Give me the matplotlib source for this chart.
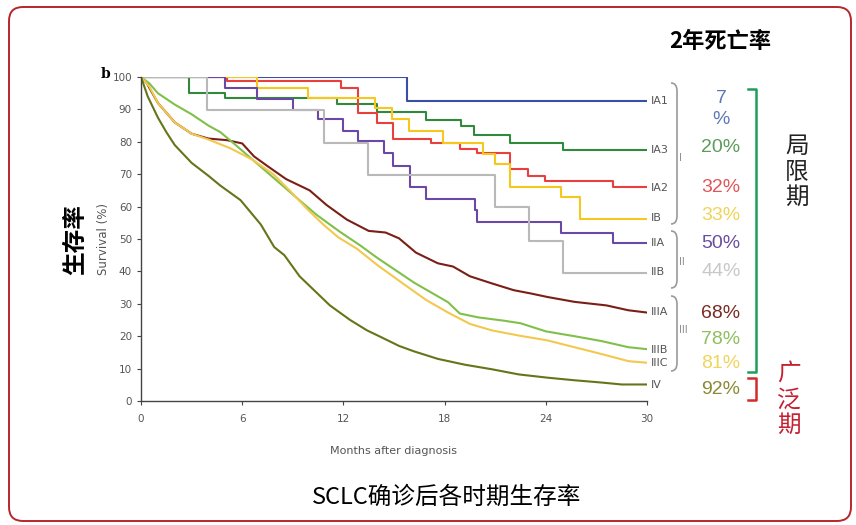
import matplotlib
matplotlib.use("Agg")
import matplotlib.pyplot as plt
from matplotlib.patches import FancyBboxPatch, PathPatch
from matplotlib.path import Path
from matplotlib.lines import Line2D

W, H = 856, 525

# --- Kaplan-Meier curves, sparse stages (time of each step, survival after it)
ia1_t = [0, 15.75, 30]
ia1_s = [100, 92.7, 92.7]
ia3_t = [0, 2.86, 4.98, 11.6, 13.97, 16.9, 19.0, 19.76, 21.9, 25.0, 30]
ia3_s = [100, 95.0, 93.4, 91.6, 89.3, 86.6, 84.8, 82.0, 79.6, 77.5, 77.5]
ia2_t = [0, 5.1, 11.84, 12.84, 13.97, 14.92, 17.2, 18.9, 19.9, 21.9, 22.96, 23.95, 28.0, 30]
ia2_s = [100, 98.8, 96.7, 88.8, 85.8, 81.0, 79.6, 77.7, 76.4, 71.6, 69.4, 68.0, 66.2, 66.2]
ib_t = [0, 6.86, 9.92, 13.9, 14.86, 15.9, 17.88, 20.3, 21.0, 21.9, 24.9, 26.0, 30]
ib_s = [100, 96.7, 93.5, 90.4, 87.0, 83.3, 79.7, 76.3, 73.2, 66.2, 63.0, 56.2, 56.2]
iia_t = [0, 4.98, 6.86, 8.99, 10.5, 11.95, 12.88, 14.4, 14.96, 15.95, 16.9, 19.8, 19.95, 24.9, 28.0, 30]
iia_s = [100, 96.6, 93.3, 89.9, 86.9, 83.2, 80.1, 76.5, 72.6, 66.2, 62.5, 59.0, 55.2, 52.0, 48.8, 48.8]
iib_t = [0, 3.93, 10.85, 13.48, 21.0, 23.0, 25.0, 30]
iib_s = [100, 89.8, 79.6, 69.9, 60.0, 49.4, 39.6, 39.6]

# --- dense stages (months, survival %)
iiia_m = [0, 0.35, 1, 2, 3, 4, 5.1, 6, 6.7, 7.5, 8.6, 10, 11, 12.2, 13.5, 14.5, 15.3,
          16.3, 17.6, 18.5, 19.5, 20.8, 22.1, 23.1, 24.1, 25.7, 27.6, 28.9, 30]
iiia_s = [100, 98, 92, 86, 82.5, 81, 80.5, 79.5, 75.5, 72.5, 68.5, 65, 60.5, 56, 52.5, 52,
          50.2, 45.8, 42.5, 41.5, 38.5, 36.3, 34.2, 33.2, 32.1, 30.6, 29.5, 28, 27.3]
iiib_m = [0, 0.5, 1, 2, 3, 4, 4.7, 5.5, 6.5, 7.5, 8.5, 9.5, 10.4, 11.8, 13, 14, 15.2,
          16.2, 17.3, 18.2, 18.9, 20, 21.5, 22.5, 24, 25.7, 27.3, 28.9, 30]
iiib_s = [100, 98, 95, 91.5, 88.5, 85, 83, 79.5, 75, 70.5, 66, 61.5, 57.5, 52.2, 48, 44.2,
          40, 36.5, 33.2, 30.5, 27, 25.8, 24.8, 24, 21.5, 20, 18.5, 16.6, 16]
iiic_m = [0, 0.5, 1, 2, 3, 4, 5.3, 6.6, 7.85, 8.9, 9.9, 10.8, 11.7, 12.8, 14, 15.6, 16.9,
          18.2, 19.5, 20.8, 22.4, 24.1, 25.7, 27.3, 28.9, 30]
iiic_s = [100, 97, 92, 86, 82.5, 80.7, 78, 74.5, 70, 64.5, 59, 54.5, 50.5, 47, 42, 36,
          31.2, 27.3, 23.8, 21.8, 20.2, 18.7, 16.6, 14.5, 12.3, 11.8]
iv_m = [0, 0.4, 1, 1.5, 2, 3, 4, 4.7, 5.9, 7.1, 7.9, 8.5, 9.4, 10.2, 11.2, 12.4, 13.4,
        14.2, 15.3, 16.2, 17.6, 19.2, 20.8, 22.4, 24.1, 25.7, 27.3, 28.5, 30]
iv_s = [100, 94, 87.5, 83, 79, 73.5, 69.5, 66.5, 62, 54.5, 47.5, 45, 38.5, 34.5, 29.5, 25,
        21.8, 19.8, 17, 15.3, 13, 11.2, 9.8, 8.2, 7.2, 6.4, 5.7, 5.1, 5.1]

stages = ["IA1", "IA3", "IA2", "IB", "IIA", "IIB", "IIIA", "IIIB", "IIIC", "IV"]
mortality = ["7\n%", "20%", "32%", "33%", "50%", "44%", "68%", "78%", "81%", "92%"]
colors = ["#3b4ea6", "#2f8a3c", "#e8403c", "#f6c81e", "#6b48a6", "#b9b9b9",
          "#7a1f16", "#80c04a", "#f2c84e", "#66741a"]
pct_colors = ["#5b78b8", "#5a9c5a", "#e05658", "#f0d458", "#6a4f9e", "#c8c8c8",
              "#7a2a22", "#8cc05e", "#f0d45c", "#8a8a34"]

narrow = ["Liberation Sans Narrow", "DejaVu Sans"]
cjk = ["Noto Sans CJK SC", "DejaVu Sans"]
grey = "#555555"


def fx(x):
    return x / W


def fy(y):
    return 1 - y / H


fig = plt.figure(figsize=(W / 100, H / 100), dpi=100)
ax = fig.add_axes([fx(141), fy(401), (647 - 141) / W, (401 - 77) / H])

step_data = [(ia1_t, ia1_s), (ia3_t, ia3_s), (ia2_t, ia2_s), (ib_t, ib_s),
             (iia_t, iia_s), (iib_t, iib_s)]
for (t, s), c in zip(step_data, colors[:6]):
    ax.step(t, s, where="post", color=c, lw=1.5)
dense_data = [(iiia_m, iiia_s), (iiib_m, iiib_s), (iiic_m, iiic_s), (iv_m, iv_s)]
for (m, s), c in zip(dense_data, colors[6:]):
    ax.plot(m, s, color=c, lw=1.5)

ax.set_xlim(0, 30)
ax.set_ylim(0, 100)
ax.set_xticks(range(0, 31, 6))
ax.set_yticks(range(0, 101, 10))
for sp in ["top", "right"]:
    ax.spines[sp].set_visible(False)
for sp in ["left", "bottom"]:
    ax.spines[sp].set_color("#444444")
    ax.spines[sp].set_linewidth(1.0)
ax.tick_params(colors="#444444", labelcolor=grey, length=3, width=0.8, labelsize=7.5)
ax.tick_params(axis="x", pad=6)
for lab in ax.get_xticklabels() + ax.get_yticklabels():
    lab.set_family(narrow)
ax.set_xlabel("Months after diagnosis", fontsize=8, color=grey, family=narrow, labelpad=16)
ax.set_ylabel("Survival (%)", fontsize=8.5, color=grey, family=narrow, labelpad=2)
ax.set_clip_on(False)

fig.text(fx(106), fy(74), "b", fontsize=10, fontweight="bold", family="DejaVu Serif",
         ha="center", va="center")

# stage labels at line ends
label_y = [101, 150, 188, 218, 243, 272, 312, 350, 363, 385]
for name, y in zip(stages, label_y):
    fig.text(fx(651), fy(y), name, fontsize=8, color=grey, family=narrow, va="center")


def brace(x_out, x_in, y_top, y_bot, r=8):
    pts = [(x_out, y_top), (x_in, y_top), (x_in, y_top + r), (x_in, y_bot - r),
           (x_in, y_bot), (x_out, y_bot)]
    codes = [Path.MOVETO, Path.CURVE3, Path.CURVE3, Path.LINETO, Path.CURVE3, Path.CURVE3]
    path = Path([(fx(x), fy(y)) for x, y in pts], codes)
    fig.add_artist(PathPatch(path, transform=fig.transFigure, fill=False,
                             edgecolor="#9a9a9a", lw=1.2))


brace(671, 677, 83, 224)
brace(671, 677, 231, 288)
brace(671, 677, 296, 371)
for txt, y in [("I", 158), ("II", 262), ("III", 330)]:
    fig.text(fx(679), fy(y), txt, fontsize=7, color="#888888", family=narrow, va="center")

# two-year mortality column
fig.text(fx(720), fy(42), "2年死亡率", fontsize=16, fontweight="bold", family=cjk,
         ha="center", va="center")
pct_y = [109, 148, 188, 215, 243, 271, 313, 339, 364, 389]
for txt, y, c in zip(mortality, pct_y, pct_colors):
    fig.text(fx(721), fy(y), txt, fontsize=14, color=c, family=["Liberation Sans", "DejaVu Sans"],
             ha="center", va="center", linespacing=1.25)

# brackets
fig.add_artist(Line2D([fx(748), fx(756), fx(756), fx(748)], [fy(89), fy(89), fy(372), fy(372)],
                      transform=fig.transFigure, color="#1f9e5a", lw=1.8))
fig.add_artist(Line2D([fx(748), fx(756), fx(756), fx(748)], [fy(378), fy(378), fy(400), fy(400)],
                      transform=fig.transFigure, color="#d42a2a", lw=1.8))
fig.text(fx(797), fy(172), "局\n限\n期", fontsize=17, family=cjk, ha="center", va="center",
         linespacing=1.15, color="#222222")
fig.text(fx(789), fy(400), "广\n泛\n期", fontsize=17, family=cjk, ha="center", va="center",
         linespacing=1.15, color="#c42030")

fig.text(fx(75), fy(240), "生存率", fontsize=17, fontweight="bold", family=cjk, rotation=90,
         ha="center", va="center")
fig.text(fx(447), fy(497), "SCLC确诊后各时期生存率", fontsize=17, family=cjk,
         ha="center", va="center")

# rounded frame
fig.add_artist(FancyBboxPatch((9, 4), 842, 514, boxstyle="round,pad=0,rounding_size=14",
                              transform=None, fill=False, edgecolor="#b8262c", lw=1.4))

fig.savefig("out.png", dpi=100)
